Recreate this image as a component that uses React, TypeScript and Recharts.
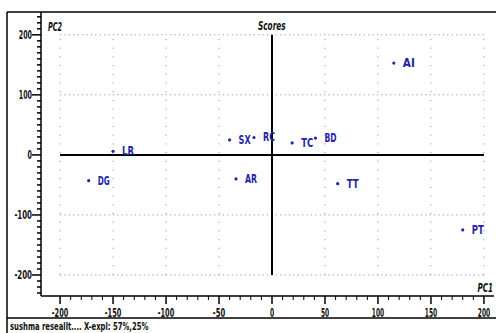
import { ScatterChart, Scatter, XAxis, YAxis, ReferenceLine } from "recharts";

const names = ["AI", "SX", "RC", "TC", "BD", "LR", "DG", "AR", "TT", "PT"];
const pc1 = [115, -40, -17, 19, 41, -150, -173, -34, 62, 180];
const pc2 = [153, 25, 29, 20, 28, 6, -43, -40, -48, -125];

const xMajor = [-200, -150, -100, -50, 0, 50, 100, 150, 200];
const yMajor = [-200, -100, 0, 100, 200];
const xTicks = Array.from({ length: 41 }, (_, i) => -200 + i * 10);
const yTicks = Array.from({ length: 47 }, (_, i) => -230 + i * 10);

const data = names.map((name, i) => ({ name, pc1: pc1[i], pc2: pc2[i] }));

const font = "'Liberation Sans Narrow', 'DejaVu Sans Condensed', 'Arial Narrow', sans-serif";
const blue = "#2424a8";

// narrow the glyphs a bit, the original uses a condensed face
const narrow = (s: string, w: number) => ({ textLength: s.length * w, lengthAdjust: "spacingAndGlyphs" as const });

function XTick({ x, y, payload }: any) {
  const major = xMajor.includes(payload.value);
  const s = String(payload.value);
  return (
    <g>
      <line x1={x} x2={x} y1={y} y2={y + (major ? 8 : 4)} stroke="#000" strokeWidth={major ? 1.5 : 1} />
      {major && (
        <text x={x} y={y + 21} textAnchor="middle" fontFamily={font} fontWeight="bold" fontSize={12} fill="#111" {...narrow(s, 4.1)}>
          {s}
        </text>
      )}
    </g>
  );
}

function YTick({ x, y, payload }: any) {
  const major = yMajor.includes(payload.value);
  const s = String(payload.value);
  return (
    <g>
      <line x1={x - (major ? 9 : 4)} x2={x} y1={y} y2={y} stroke="#000" strokeWidth={1.5} />
      {major && (
        <text x={x - 9} y={y + 4} textAnchor="end" fontFamily={font} fontWeight="bold" fontSize={12} fill="#111" {...narrow(s, 4.4)}>
          {s}
        </text>
      )}
    </g>
  );
}

function Point({ cx, cy, payload }: any) {
  return (
    <g>
      <circle cx={cx} cy={cy} r={1.6} fill={blue} />
      <text x={cx + 9} y={cy + 4} fontFamily={font} fontWeight="bold" fontSize={13} fill={blue} {...narrow(payload.name, 6)}>
        {payload.name}
      </text>
    </g>
  );
}

const dotGrid = "#9a9a9a";
const footer = "sushma reseallt.... X-expl: 57%,25%";

export default function App() {
  return (
    <div style={{ position: "absolute", left: 0, top: 0, width: 496, height: 333, background: "#fff" }}>
      <ScatterChart width={496} height={333} margin={{ top: 12, right: 2, bottom: 15, left: 7 }}>
        <XAxis
          type="number"
          dataKey="pc1"
          domain={[-218, 209.5]}
          ticks={xTicks}
          interval={0}
          tickSize={0}
          tickMargin={0}
          height={22}
          allowDataOverflow
          axisLine={{ stroke: "#000", strokeWidth: 1.5 }}
          tick={<XTick />}
        />
        <YAxis
          type="number"
          dataKey="pc2"
          domain={[-235, 238]}
          ticks={yTicks}
          interval={0}
          tickSize={0}
          tickMargin={0}
          width={34}
          allowDataOverflow
          axisLine={{ stroke: "#000", strokeWidth: 1.5 }}
          tick={<YTick />}
        />
        {yMajor.map((v) => (
          <ReferenceLine
            key={"h" + v}
            segment={[{ x: -200, y: v }, { x: 200, y: v }]}
            stroke={dotGrid}
            strokeDasharray="1.2 3.2"
          />
        ))}
        {xMajor.map((v) => (
          <ReferenceLine
            key={"v" + v}
            segment={[{ x: v, y: -200 }, { x: v, y: 200 }]}
            stroke={dotGrid}
            strokeDasharray="1.2 7.5"
          />
        ))}
        <ReferenceLine segment={[{ x: -200, y: 0 }, { x: 200, y: 0 }]} stroke="#000" strokeWidth={2} />
        <ReferenceLine segment={[{ x: 0, y: -200 }, { x: 0, y: 200 }]} stroke="#000" strokeWidth={2} />
        <Scatter data={data} shape={<Point />} isAnimationActive={false} />
      </ScatterChart>
      <svg width={496} height={333} style={{ position: "absolute", left: 0, top: 0, pointerEvents: "none" }}>
        <line x1={7} x2={496} y1={12} y2={12} stroke="#000" strokeWidth={1.5} />
        <line x1={7} x2={7} y1={12} y2={333} stroke="#000" strokeWidth={1.5} />
        <line x1={7} x2={496} y1={318} y2={318} stroke="#000" strokeWidth={1.5} />
        <text x={48} y={31} fontFamily={font} fontWeight="bold" fontStyle="italic" fontSize={12} fill="#111" {...narrow("PC2", 4.7)}>
          PC2
        </text>
        <text x={258} y={30} fontFamily={font} fontWeight="bold" fontStyle="italic" fontSize={12} fill="#111" {...narrow("Scores", 4.6)}>
          Scores
        </text>
        <text x={493} y={292} textAnchor="end" fontFamily={font} fontWeight="bold" fontStyle="italic" fontSize={12} fill="#111" {...narrow("PC1", 5.2)}>
          PC1
        </text>
        <text x={10} y={330} fontFamily={font} fontWeight="bold" fontSize={11} fill="#111" {...narrow(footer, 3.95)}>
          {footer}
        </text>
      </svg>
    </div>
  );
}
